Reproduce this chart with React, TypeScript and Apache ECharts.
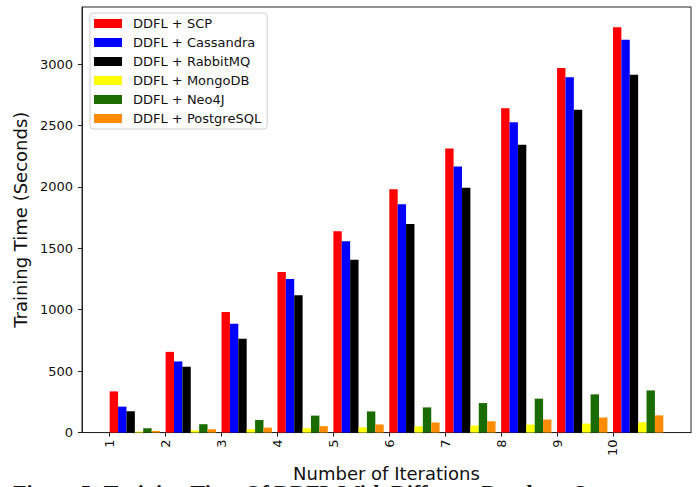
import React, { useEffect, useRef } from "react";
import * as echarts from "echarts";

// Iteration numbers on the x axis
const iterations = [1, 2, 3, 4, 5, 6, 7, 8, 9, 10];

// Training time (seconds) per configuration
const seriesNames = [
  "DDFL + SCP",
  "DDFL + Cassandra",
  "DDFL + RabbitMQ",
  "DDFL + MongoDB",
  "DDFL + Neo4J",
  "DDFL + PostgreSQL",
];
const scpTimes = [335, 657, 982, 1307, 1640, 1981, 2313, 2640, 2968, 3300];
const cassandraTimes = [211, 579, 885, 1250, 1558, 1859, 2167, 2527, 2892, 3198];
const rabbitmqTimes = [173, 536, 763, 1117, 1407, 1699, 1994, 2343, 2629, 2914];
const mongodbTimes = [8, 18, 27, 35, 42, 51, 57, 65, 73, 84];
const neo4jTimes = [35, 68, 102, 138, 172, 205, 240, 276, 311, 343];
const postgresTimes = [13, 27, 40, 52, 66, 82, 92, 106, 122, 140];

const yTicks = [0, 500, 1000, 1500, 2000, 2500, 3000];

const seriesColors = ["#ff0000", "#0000ff", "#000000", "#ffff00", "#1a6b00", "#ff8c00"];
const allTimes = [scpTimes, cassandraTimes, rabbitmqTimes, mongodbTimes, neo4jTimes, postgresTimes];

const BAR_W = 0.15;
const FONT = "DejaVu Sans";

export default function App() {
  const ref = useRef<HTMLDivElement>(null);

  useEffect(() => {
    if (!ref.current) return;
    const chart = echarts.init(ref.current, null, { renderer: "svg" });

    const maxVal = Math.max(...allTimes.flat());
    const xMin = iterations[0] - 0.05 * (iterations[iterations.length - 1] + 6 * BAR_W - iterations[0]);
    const xMax = iterations[iterations.length - 1] + 6 * BAR_W + (iterations[0] - xMin);

    const series = allTimes.map((vals, k) => ({
      type: "custom",
      name: seriesNames[k],
      itemStyle: { color: seriesColors[k] },
      encode: { x: 0, y: 1 },
      data: iterations.map((it, i) => [it, vals[i]]),
      renderItem: (_params: any, api: any) => {
        const x = api.value(0) + k * BAR_W;
        const y = api.value(1);
        const p0 = api.coord([x, 0]);
        const p1 = api.coord([x + BAR_W, y]);
        return {
          type: "rect",
          shape: { x: p0[0], y: p1[1], width: p1[0] - p0[0], height: p0[1] - p1[1] },
          style: { fill: seriesColors[k] },
        };
      },
    }));

    chart.setOption({
      animation: false,
      backgroundColor: "#ffffff",
      grid: {
        left: 82,
        right: 6,
        top: 7,
        bottom: 52,
        show: true,
        borderColor: "#222",
        borderWidth: 1,
        backgroundColor: "transparent",
      },
      legend: {
        orient: "vertical",
        left: 90,
        top: 13,
        padding: [4, 6, 4, 4],
        itemWidth: 28,
        itemHeight: 9,
        itemGap: 6,
        icon: "rect",
        borderColor: "#d0d0d0",
        borderWidth: 1,
        borderRadius: 3,
        backgroundColor: "#ffffff",
        textStyle: { fontFamily: FONT, fontSize: 13, color: "#111", lineHeight: 13, padding: [0, 0, 0, 6] },
        data: seriesNames,
      },
      xAxis: {
        type: "value",
        min: xMin,
        max: xMax,
        name: "Number of Iterations",
        nameLocation: "middle",
        nameGap: 30,
        nameTextStyle: { fontFamily: FONT, fontSize: 18, color: "#111" },
        axisLine: { show: true, lineStyle: { color: "#222", width: 1 } },
        axisTick: { show: true, length: 4, lineStyle: { color: "#222" }, customValues: iterations },
        axisLabel: {
          customValues: iterations,
          rotate: 90,
          margin: 7,
          fontFamily: FONT,
          fontSize: 13,
          color: "#111",
          formatter: (v: number) => String(Math.round(v)),
        },
        splitLine: { show: false },
      },
      yAxis: {
        type: "value",
        min: 0,
        max: maxVal * 1.05,
        name: "Training Time (Seconds)",
        nameLocation: "middle",
        nameGap: 44,
        nameTextStyle: { fontFamily: FONT, fontSize: 18, color: "#111" },
        axisLine: { show: true, lineStyle: { color: "#222", width: 1 } },
        axisTick: { show: true, length: 4, lineStyle: { color: "#222" }, customValues: yTicks },
        axisLabel: {
          customValues: yTicks,
          margin: 9,
          fontFamily: FONT,
          fontSize: 13,
          color: "#111",
          formatter: (v: number) => String(Math.round(v)),
        },
        splitLine: { show: false },
      },
      graphic: [
        {
          type: "text",
          left: 13,
          top: 481,
          style: {
            text: "Figure 5: Training Time Of DDFL With Different Database Systems",
            fontFamily: "Liberation Serif",
            fontWeight: "bold",
            fontSize: 22,
            fill: "#111",
          },
        },
      ],
      series,
    });

    return () => chart.dispose();
  }, []);

  return (
    <div
      ref={ref}
      style={{ position: "fixed", left: 0, top: 0, width: 697, height: 487, background: "#fff" }}
    />
  );
}
